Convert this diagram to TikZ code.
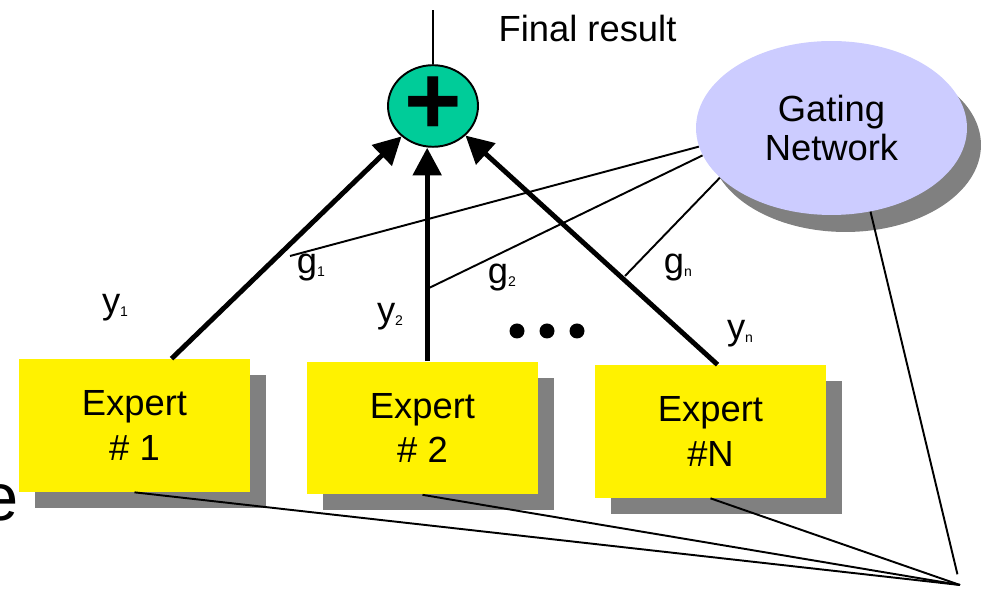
\documentclass[tikz,border=0pt]{standalone}
\usepackage{fontspec}
\setmainfont{Liberation Sans}
\usepackage{tikz}
\usetikzlibrary{arrows.meta, shapes, shadows, calc}
\definecolor{sumgreen}{RGB}{0,204,153}
\definecolor{gatepurple}{RGB}{204,204,255}
\def\shadowsep{0.32cm}
\newcommand{\low}[1]{\raisebox{-1.5pt}{\fontsize{8}{8}\selectfont #1}}
\tikzset{
	every node/.style={
		font=\fontsize{20.7}{25.5}\selectfont
	},
	expert/.style={
		shape=rectangle,
		minimum width=4.62cm,
		minimum height=2.66cm,
		fill=yellow,
		align=center,
		drop shadow={shadow xshift=\shadowsep, shadow yshift=-\shadowsep, fill=black!50, opacity=1},
	},
	gate/.style={
		shape=ellipse,
		minimum width=5.42cm,
		minimum height=3.48cm,
		inner sep=0pt,
		fill=gatepurple,
		align=center,
		font=\fontsize{20.7}{22.7}\selectfont,
		drop shadow={shadow xshift=0.28cm, shadow yshift=-0.34cm, fill=black!50, opacity=1},
	},
	sum/.style={
		shape=ellipse,
		minimum width=1.8cm,
		minimum height=1.56cm,
		inner sep=0pt,
		fill=sumgreen,
		draw,
		line width=1.1pt,
		font=\fontsize{56}{56}\selectfont\bfseries
	},
}

\begin{document}
\begin{tikzpicture}[x=0.02cm, y=-0.02cm]
	\useasboundingbox (0,0) rectangle (981,590);
	\clip (0,0) rectangle (981,590);
	\tikzstyle{flow}=[line width=2.8pt, -{Triangle[length=0.55cm, width=0.56cm]}]
	\tikzstyle{wire}=[line width=1.1pt]
	\tikzstyle{annot}=[inner sep=0pt]
	
	\node[annot, anchor=base east, font=\fontsize{38}{38}\selectfont] (cut) at (19,521) {e};
	
	\foreach \name / \x / \y / \txt in {1/134.5/425.5/{\# 1}, 2/422.5/428/{\# 2}, 3/710.5/431.5/{\#N}}
	\node[expert] (E-\name) at (\x,\y) {Expert\\\txt};
	
	\node[gate] (G) at (831.5,128) {Gating\\Network};
	\node[sum] (S) at (433,106) {\raisebox{-1pt}{+}};
	\node[annot, anchor=base] (res) at (587.5,42) {Final result};
	\coordinate (top) at (433,10);
	\draw[wire] (S.north) -- (top);
	
	% expert outputs into the sum
	\draw[flow] (E-1.61) -- (S);
	\draw[flow] (E-2.86) -- (E-2.86 |- S.south);
	\draw[flow] (E-3.84) -- (S);
	
	% gating weights
	\coordinate (w-1) at (290,256);
	\coordinate (w-2) at (429,288);
	\coordinate (w-3) at (625,276);
	\foreach \i / \a in {1/188, 2/192, 3/204}
	\draw[wire] (w-\i) -- (G.\a);
	
	\foreach \name / \x / \y / \txt in {y1/115/308/{y\low{1}}, y2/390/317/{y\low{2}}, yn/740/334/{y\low{n}},
		g1/311/268/{g\low{1}}, g2/502/278/{g\low{2}}, gn/678/268/{g\low{n}}}
	\node[annot] (L-\name) at (\x,\y) {\txt};
	
	\foreach \x in {517,547,577}
	\fill (\x,331) circle (0.15cm);
	
	% lines to the corner
	\coordinate (conv) at (960,585);
	\foreach \i in {1,2,3}
	\draw[wire] (E-\i.south) -- (conv);
	\draw[wire, shorten >=0.22cm] (G.295) -- (conv);
\end{tikzpicture}
\end{document}
